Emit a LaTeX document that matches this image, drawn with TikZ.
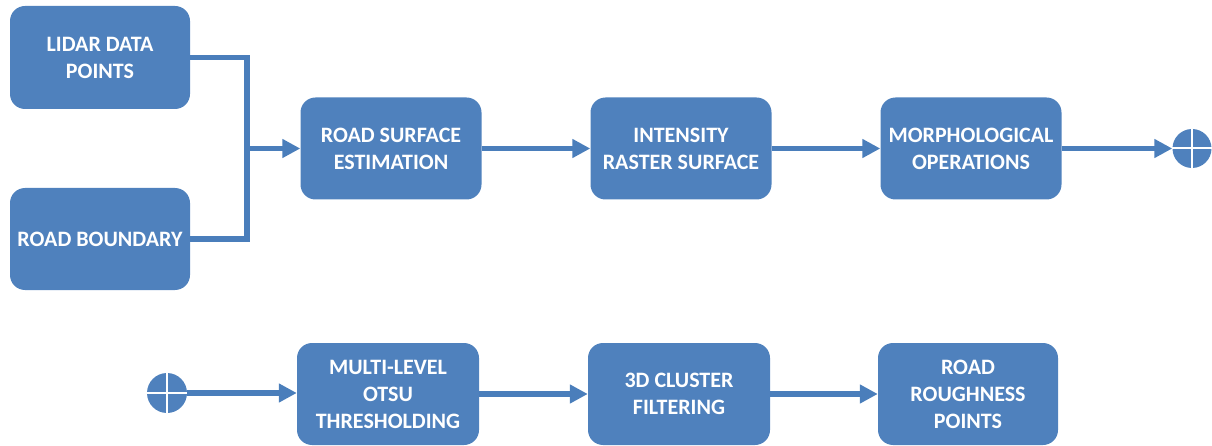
\documentclass[tikz,border=0pt]{standalone}
\usepackage{fontspec}
\setmainfont{Carlito}
\usetikzlibrary{arrows.meta}
\definecolor{boxblue}{HTML}{4F81BD}
\definecolor{lineblue}{HTML}{4A7EBB}
\tikzset{
  procbox/.style={fill=boxblue, draw=none, rounded corners=15pt,
    minimum width=181pt, minimum height=102pt, inner sep=0pt,
    align=center, text=white, font=\bfseries\fontsize{22}{27}\selectfont},
  link/.style={draw=lineblue, line width=5.7pt, line join=miter},
  flow/.style={link, -{Triangle[length=18pt, width=18pt]}},
  connector/.style={fill=boxblue, draw=none},
  crossline/.style={draw=white, line width=2pt}
}
\begin{document}
\begin{tikzpicture}[x=1pt, y=-1pt]
  \useasboundingbox (0,0) rectangle (1212,446);

  % upper row
  \node[procbox, minimum width=180pt, minimum height=103pt] (lidar) at (100,57.5) {LIDAR DATA\\POINTS};
  \node[procbox, minimum width=180pt] (boundary) at (100,239) {ROAD BOUNDARY};
  \node[procbox] (surface) at (391,148.5) {ROAD SURFACE\\ESTIMATION};
  \node[procbox] (raster) at (681,148.5) {INTENSITY\\RASTER SURFACE};
  \node[procbox] (morph) at (971,148.5) {MORPHOLOGICAL\\OPERATIONS};
  \node[connector, circle, minimum size=39pt, inner sep=0pt] (conA) at (1192,148.5) {};
  \draw[crossline] (conA.north) -- (conA.south) (conA.west) -- (conA.east);

  % lower row
  \node[connector, circle, minimum size=40pt, inner sep=0pt] (conB) at (167,393) {};
  \draw[crossline] (conB.north) -- (conB.south) (conB.west) -- (conB.east);
  \node[procbox, minimum width=182pt] (otsu) at (388,394) {MULTI-LEVEL\\OTSU\\THRESHOLDING};
  \node[procbox, minimum width=182pt] (cluster) at (679,394) {3D CLUSTER\\FILTERING};
  \node[procbox, minimum width=180pt] (rough) at (968,394) {ROAD\\ROUGHNESS\\POINTS};

  % connectors
  \coordinate (merge) at (247,148.5);
  \draw[link] (lidar.east) -| (merge) |- (boundary.east);
  \draw[flow] (merge) -- (surface.west);
  \draw[flow] (surface) -- (raster);
  \draw[flow] (raster) -- (morph);
  \draw[flow] (morph.east) -- (conA.west);
  \draw[flow] (conB.east) -- (otsu.west |- conB.east);
  \draw[flow] (otsu) -- (cluster);
  \draw[flow] (cluster) -- (rough);
\end{tikzpicture}
\end{document}
